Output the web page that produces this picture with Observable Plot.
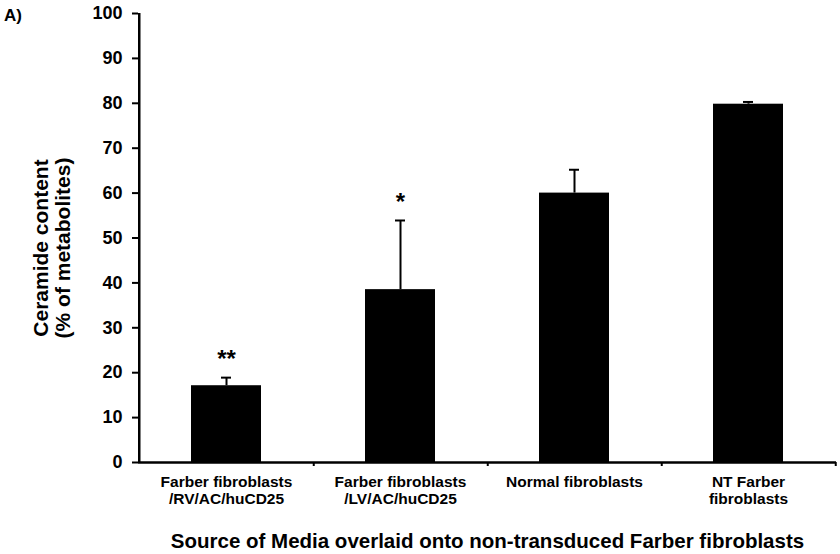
<!DOCTYPE html>
<html>
<head>
<meta charset="utf-8">
<script src="https://cdn.jsdelivr.net/npm/d3@7"></script>
<script src="https://cdn.jsdelivr.net/npm/@observablehq/plot@0.6"></script>
<style>
  html, body { margin: 0; padding: 0; background: #fff; }
  #wrap { position: relative; width: 840px; height: 554px; }
  #panel { position: absolute; left: 4px; top: 6px; font: bold 17px "Liberation Sans", Arial, sans-serif; }
</style>
</head>
<body>
<div id="wrap">
  <div id="panel">A)</div>
  <div id="chart"></div>
</div>
<script>
const categories = [
  "Farber fibroblasts\n/RV/AC/huCD25",
  "Farber fibroblasts\n/LV/AC/huCD25",
  "Normal fibroblasts",
  "NT Farber\nfibroblasts"
];
const values = [17.1, 38.5, 60.0, 79.8];
const errors = [1.8, 15.4, 5.2, 0.5];
const significance = ["**", "*", "", ""];
const yTicks = [0, 10, 20, 30, 40, 50, 60, 70, 80, 90, 100];
const yLabel = "Ceramide content\n(% of metabolites)";
const xLabel = "Source of Media overlaid onto non-transduced Farber fibroblasts";

const data = categories.map((c, i) => ({category: c, value: values[i], error: errors[i], sig: significance[i]}));

const W = 840, H = 554, mL = 138, mR = 4, mT = 13, mB = 92;
const step = (W - mL - mR) / categories.length;

const chart = Plot.plot({
  width: W, height: H,
  marginLeft: mL, marginRight: mR, marginTop: mT, marginBottom: mB,
  style: {fontFamily: "'Liberation Sans', Arial, sans-serif", fontWeight: "bold", color: "black", background: "white"},
  x: {domain: categories, paddingInner: 0.6, paddingOuter: 0.3, label: null},
  y: {domain: [0, 100], label: null},
  marks: [
    Plot.barY(data, {x: "category", y: "value", fill: "black"}),
    Plot.ruleX(data, {x: "category", y1: "value", y2: d => d.value + d.error, stroke: "black", strokeWidth: 2}),
    Plot.tickY(data, {x: "category", y: d => d.value + d.error, stroke: "black", strokeWidth: 2, insetLeft: 30, insetRight: 30}),
    Plot.text(data, {x: "category", y: d => d.value + d.error, text: "sig", fontSize: 24, fontWeight: "bold", dy: -18}),
    Plot.ruleY([0], {stroke: "black", strokeWidth: 2.5}),
    Plot.ruleX([categories[0]], {x: d => d, dx: -step / 2, y1: 0, y2: 100, stroke: "black", strokeWidth: 2.5}),
    Plot.axisX({tickSize: 4, dx: step / 2, tickFormat: () => "", strokeWidth: 2, label: null}),
    Plot.axisX({tickSize: 0, tickPadding: 12, fontSize: 15.5, lineHeight: 1.13, label: null}),
    Plot.axisY({ticks: yTicks, tickSize: 6, tickPadding: 10, fontSize: 18, strokeWidth: 2, label: null}),
    Plot.text([yLabel], {frameAnchor: "left", textAnchor: "middle", rotate: -90, dx: -87, dy: 10, fontSize: 21, fontWeight: "bold", lineHeight: 1.05}),
    Plot.text([xLabel], {frameAnchor: "bottom", dy: 85, fontSize: 20.5, fontWeight: "bold"})
  ]
});
document.getElementById("chart").appendChild(chart);
</script>
</body>
</html>
